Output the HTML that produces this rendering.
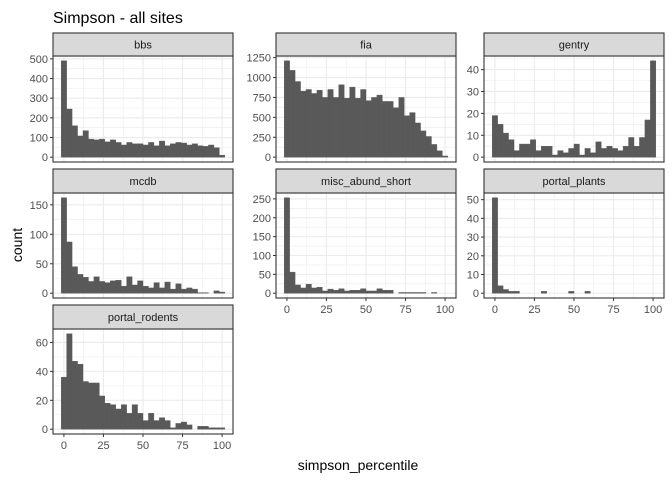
<!DOCTYPE html>
<html><head><meta charset="utf-8"><style>
body{margin:0;background:#fff;}
svg{font-family:"Liberation Sans",Arial,sans-serif;display:block}
</style></head><body>
<svg id="chart" width="672" height="480" viewBox="0 0 672 480">
<text x="53" y="23" font-size="16" fill="#000">Simpson - all sites</text>
<text transform="translate(22,245) rotate(-90)" text-anchor="middle" font-size="14" fill="#000">count</text>
<text x="358" y="470" text-anchor="middle" font-size="14" fill="#000">simpson_percentile</text>
</svg>
<script>
const facetNames = ["bbs","fia","gentry","mcdb","misc_abund_short","portal_plants","portal_rodents"];
const bbsCounts = [490,245,160,108,135,92,88,92,78,88,75,62,75,68,68,62,75,58,82,58,68,75,72,62,68,58,55,62,48,10];
const fiaCounts = [1210,1090,950,830,850,800,840,750,850,750,910,740,880,740,850,710,750,780,700,700,620,750,520,560,430,330,260,160,80,15];
const gentryCounts = [19,15,11,8,3,6,6,8,3,5,5,1,3,2,4,6,1,4,2,7,4,5,4,3,5,9,5,9,17,44];
const mcdbCounts = [162,87,45,32,27,20,28,20,18,21,22,12,28,14,21,12,9,18,9,19,7,16,7,9,7,1,1,0,4,2];
const miscCounts = [253,56,22,14,24,14,16,6,11,8,12,6,8,8,12,6,6,12,8,8,0,2,2,2,2,2,0,2,0,0];
const plantsCounts = [51,4,2,1,1,0,0,0,0,1,0,0,0,0,1,0,0,1,0,0,0,0,0,0,0,0,0,0,0,0];
const rodentsCounts = [36,66,47,45,33,32,32,23,18,17,14,17,11,17,11,6,11,6,8,6,1,4,5,3,0,2,2,1,1,1];
const bbsTicks = [0,100,200,300,400,500];
const fiaTicks = [0,250,500,750,1000,1250];
const gentryTicks = [0,10,20,30,40];
const mcdbTicks = [0,50,100,150];
const miscTicks = [0,50,100,150,200,250];
const plantsTicks = [0,10,20,30,40,50];
const rodentsTicks = [0,20,40,60];
const xTicks = [0,25,50,75,100];

const svg = document.getElementById('chart');
const NS = 'http://www.w3.org/2000/svg';
function mk(tag, attrs){const e=document.createElementNS(NS,tag);for(const k in attrs)e.setAttribute(k,attrs[k]);svg.appendChild(e);return e;}

const cols=[53,276,484], W=180;
const rows=[{s:33,p:56,b:162},{s:169,p:193,b:298},{s:305,p:329,b:434}];
const panels=[
 {c:0,r:0,d:bbsCounts,t:bbsTicks,xl:false},
 {c:1,r:0,d:fiaCounts,t:fiaTicks,xl:false},
 {c:2,r:0,d:gentryCounts,t:gentryTicks,xl:false},
 {c:0,r:1,d:mcdbCounts,t:mcdbTicks,xl:false},
 {c:1,r:1,d:miscCounts,t:miscTicks,xl:true},
 {c:2,r:1,d:plantsCounts,t:plantsTicks,xl:true},
 {c:0,r:2,d:rodentsCounts,t:rodentsTicks,xl:true}];
const nb=30, bw=100/29, x0=-bw/2, xmin=x0-0.05*(nb*bw), xmax=x0+nb*bw+0.05*(nb*bw);

panels.forEach((P,i)=>{
 const L=cols[P.c], R=L+W, row=rows[P.r], T=row.p, B=row.b;
 const maxv=Math.max(...P.d), ymin=-0.05*maxv, ymax=maxv*1.05;
 const xs=v=>L+(v-xmin)/(xmax-xmin)*W;
 const ys=v=>B-(v-ymin)/(ymax-ymin)*(B-T);
 const bg=mk('rect',{x:L,y:T,width:W,height:B-T,fill:'#fff'});
 
 
 const step=P.t[1]-P.t[0];
 for(let k=0;k<P.t.length;k++){
  [P.t[k], P.t[k]+step/2].forEach((v,j)=>{
   if(v>ymax)return;
   const g=mk('line',{x1:L,x2:R,y1:ys(v),y2:ys(v),stroke:'#ebebeb','stroke-width':j?0.55:1.1});
   
   
  });
 }
 xTicks.forEach((v,k)=>{
  [v, v+12.5].forEach((u,j)=>{
   if(u>xmax)return;
   const g=mk('line',{y1:T,y2:B,x1:xs(u),x2:xs(u),stroke:'#ebebeb','stroke-width':j?0.55:1.1});
   
   
  });
 });
 P.d.forEach((v,k)=>{
  if(v<=0)return;
  const a=x0+k*bw;
  const r=mk('rect',{x:xs(a),y:ys(v),width:xs(a+bw)-xs(a),height:ys(0)-ys(v),fill:'#595959',stroke:'#595959','stroke-width':0.4});
  
  
 });
 const bd=mk('rect',{x:L,y:T,width:W,height:B-T,fill:'none',stroke:'#333','stroke-width':1.1});
 
 
 const st=mk('rect',{x:L,y:row.s,width:W,height:T-row.s,fill:'#d9d9d9',stroke:'#333','stroke-width':1.1});
 
 
 const sl=mk('text',{x:L+W/2,y:(row.s+T)/2+4,'text-anchor':'middle','font-size':11,fill:'#1a1a1a'});
 sl.textContent=facetNames[i];
 
 
 P.t.forEach(v=>{
  const tk=mk('line',{x1:L-3,x2:L,y1:ys(v),y2:ys(v),stroke:'#333','stroke-width':1});
  
  
  const tl=mk('text',{x:L-5,y:ys(v)+4,'text-anchor':'end','font-size':11,fill:'#4d4d4d'});
  tl.textContent=v;
  
  
 });
 if(P.xl){
  xTicks.forEach(v=>{
   const tk=mk('line',{x1:xs(v),x2:xs(v),y1:B,y2:B+3,stroke:'#333','stroke-width':1});
   
   
   const tl=mk('text',{x:xs(v),y:B+15,'text-anchor':'middle','font-size':11,fill:'#4d4d4d'});
   tl.textContent=v;
   
   
  });
 }
});
</script>
</body></html>
